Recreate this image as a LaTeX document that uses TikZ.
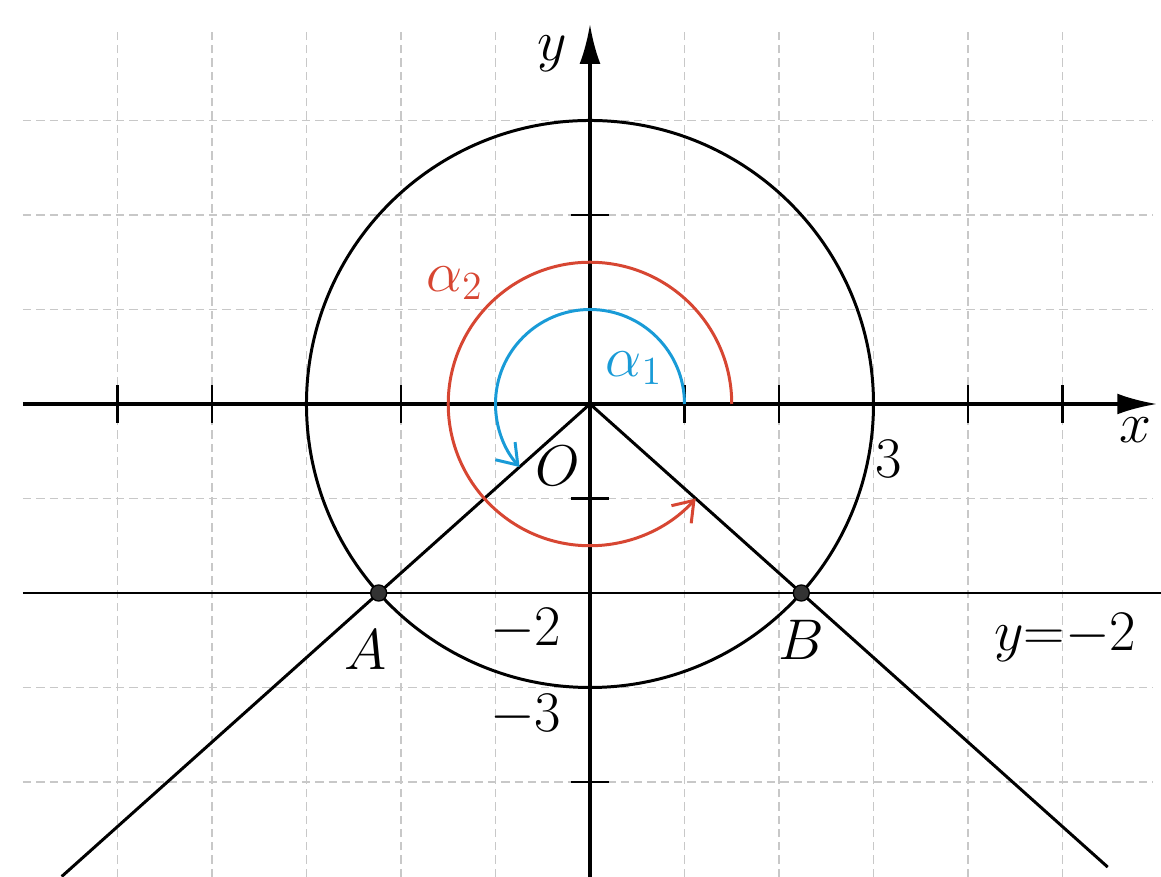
\documentclass[tikz,border=0pt]{standalone}
\usetikzlibrary{arrows.meta,calc}
\definecolor{arcblue}{RGB}{25,155,215}
\definecolor{arcred}{RGB}{215,70,50}
\definecolor{gridgray}{RGB}{200,200,200}
\begin{document}
\begin{tikzpicture}[
    every node/.style={font=\fontsize{17}{19}\selectfont, inner sep=1pt},
    axis/.style={line width=1pt, -{Latex[length=4.2mm,width=2.2mm]}},
    curve/.style={line width=0.9pt},
    gridline/.style={gridgray, dash pattern=on 2.5pt off 1.5pt, line width=0.4pt},
    tick/.style={line width=0.8pt},
    angarc/.style={line width=0.9pt, -{Straight Barb[length=2mm,width=2.8mm]}},
    pt/.style={circle, fill=black!80, draw=black, inner sep=0pt, minimum size=1.7mm},
    >=latex
]
\useasboundingbox (-6.243,-5.005) rectangle (6.042,4.275);

% grid
\foreach \x in {-5,...,5} \draw[gridline] (\x,-5.005) -- (\x,3.95);
\foreach \y in {-4,...,3} \draw[gridline] (-6.0,\y) -- (5.95,\y);

\coordinate (O) at (0,0);
\coordinate (A) at ({-sqrt(5)},-2);
\coordinate (B) at ({sqrt(5)},-2);
\coordinate (Aend) at ($(O)!2.5!(A)$);
\coordinate (Bend) at ($(O)!2.45!(B)$);
\coordinate (lineL) at (-6.0,-2);
\coordinate (lineR) at (6.042,-2);
\coordinate (xL) at (-6.0,0);
\coordinate (xR) at (6.0,0);
\coordinate (yB) at (0,-5.005);
\coordinate (yT) at (0,4.02);

% circle, line and rays
\draw[curve] (O) circle[radius=3];
\draw[curve] (lineL) -- (lineR);
\draw[curve] (O) -- (Aend);
\draw[curve] (O) -- (Bend);

% axes
\draw[axis] (xL) -- (xR);
\draw[axis] (yB) -- (yT);
\foreach \x in {-5,-4,-2,1,2,4,5} \draw[tick] (\x,-0.2) -- (\x,0.2);
\foreach \y in {-4,-1,2} \draw[tick] (-0.2,\y) -- (0.2,\y);

% angles
\draw[angarc, arcblue] ([shift={(0:1)}]O) arc[start angle=0, end angle=221.8, radius=1];
\draw[angarc, arcred] ([shift={(0:1.5)}]O) arc[start angle=0, end angle=318.2, radius=1.5];

\node[pt] (ptA) at (A) {};
\node[pt] (ptB) at (B) {};

% labels
\node (ylab) at (-0.4,3.71) {$y$};
\node (xlab) at (5.77,-0.28) {$x$};
\node (olab) at (-0.34,-0.65) {$O$};
\node (three) at (3.16,-0.58) {$3$};
\node (mtwo) at (-0.68,-2.39) {$-2$};
\node (mthree) at (-0.68,-3.29) {$-3$};
\node (alab) at (-2.38,-2.6) {$A$};
\node (blab) at (2.24,-2.5) {$B$};
\node (linelab) at (5.03,-2.47) {$y{=}{-2}$};
\node[arcred] (atwo) at (-1.43,1.28) {$\alpha_2$};
\node[arcblue] (aone) at (0.47,0.38) {$\alpha_1$};
\end{tikzpicture}
\end{document}
